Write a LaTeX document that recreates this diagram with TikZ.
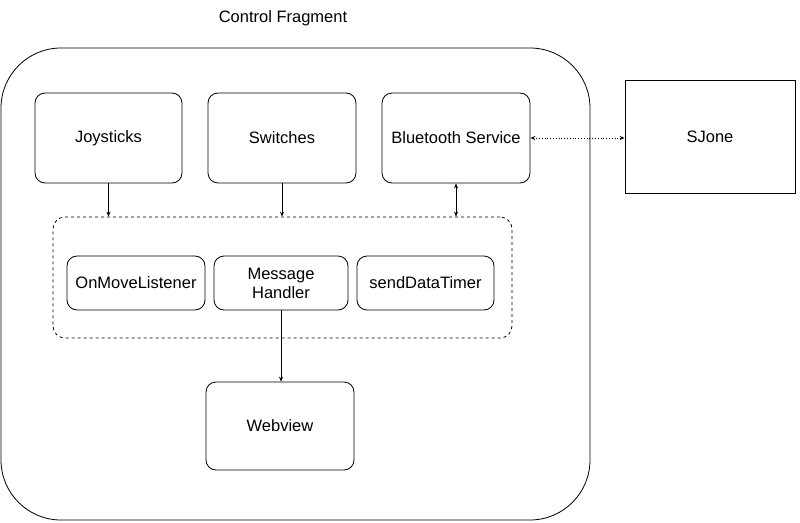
\documentclass[tikz,border=0pt]{standalone}
\usepackage{fontspec}
\setmainfont{Liberation Sans}
\usetikzlibrary{arrows.meta}
\begin{document}
\begin{tikzpicture}[x=1pt,y=-1pt,
  box/.style={draw,rounded corners=10pt,line width=0.8pt,align=center,font=\fontsize{16.5}{19}\selectfont},
  arr/.style={-{Stealth[length=5pt,width=4pt]},line width=0.8pt}]
\useasboundingbox (0,0) rectangle (800,522);
\node[font=\fontsize{16.5}{19}\selectfont] (title) at (283,18) {Control Fragment};
\draw[line width=0.8pt,rounded corners=60pt] (1,48) rectangle (590,520);
\node[box,minimum width=147pt,minimum height=90pt] (joy) at (108.5,138) {Joysticks};
\node[box,minimum width=148pt,minimum height=90pt] (sw) at (282,138) {Switches};
\node[box,minimum width=148pt,minimum height=90pt,inner sep=1pt] (bt) at (456,138) {Bluetooth Service};
\node[draw,line width=0.8pt,minimum width=170pt,minimum height=113pt,font=\fontsize{16.5}{19}\selectfont] (sj) at (710,136.5) {SJone};
\node[draw,dashed,line width=0.8pt,rounded corners=12pt,minimum width=459pt,minimum height=121pt] (grp) at (282.5,277.5) {};
\node[box,minimum width=138pt,minimum height=54pt,inner sep=1pt] (oml) at (136,283) {OnMoveListener};
\node[box,minimum width=134pt,minimum height=54pt,inner sep=1pt] (mh) at (281,283) {Message\\Handler};
\node[box,minimum width=137pt,minimum height=54pt,inner sep=1pt] (sdt) at (425.5,283) {sendDataTimer};
\node[box,minimum width=148pt,minimum height=88pt] (wv) at (280,426) {Webview};
\draw[arr] (joy.south) -- (joy.south|-grp.north);
\draw[arr] (sw.south) -- (sw.south|-grp.north);
\draw[arr,{Stealth[length=5pt,width=4pt]}-{Stealth[length=5pt,width=4pt]}] (bt.south) -- (bt.south|-grp.north);
\draw[arr,dotted,{Stealth[length=5pt,width=4pt]}-{Stealth[length=5pt,width=4pt]}] (bt.east) -- (sj.west|-bt.east);
\draw[arr] (mh.south) -- (mh.south|-wv.north);
\end{tikzpicture}
\end{document}
